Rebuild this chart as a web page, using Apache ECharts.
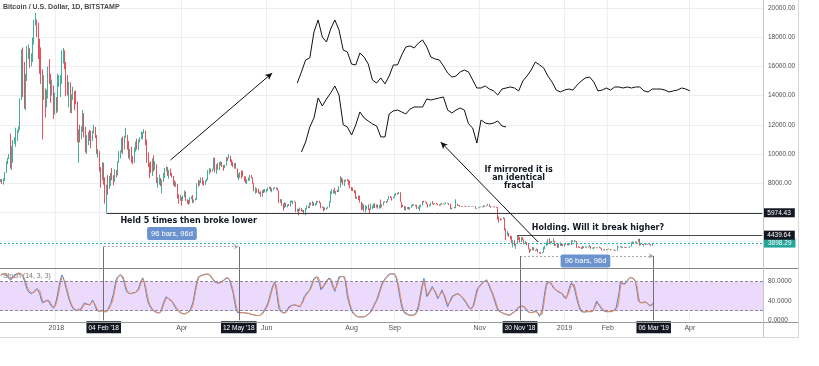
<!DOCTYPE html>
<html>
<head>
<meta charset="utf-8">
<title>BTCUSD</title>
<script src="https://cdn.jsdelivr.net/npm/echarts@6/dist/echarts.min.js"></script>
<style>
html,body{margin:0;padding:0;background:#fff;overflow:hidden;}
#wrap{position:relative;width:819px;height:366px;}
#chart{position:absolute;left:0;top:0;width:819px;height:366px;}
.ln{position:absolute;pointer-events:none;}
</style>
</head>
<body>
<div id="wrap">
<div id="chart"></div>
<div class="ln" style="left:0;top:268px;width:798px;border-top:1px solid #858585;"></div>
<div class="ln" style="left:0;top:322px;width:798px;border-top:1px solid #9a9a9a;"></div>
<div class="ln" style="left:0;top:337px;width:799px;border-top:1px solid #d6d6d6;"></div>
<div class="ln" style="left:763px;top:0;height:337px;border-left:1px solid #c4c4c4;"></div>
<div class="ln" style="left:798px;top:0;height:337px;border-left:1px solid #d6d6d6;"></div>
</div>
<script>
// ---------------- DATA ----------------
const START_DATE = '2017-11-22';   // first category (daily)
const CAT_COUNT = 548;             // daily slots on the time axis (incl. empty right margin)
const FIRST_OPEN = 8080;           // close of 2017-11-21

// Daily closes, Bitstamp BTCUSD, 2017-11-22 .. 2019-03-06
const closes = [
  8230,8010,8200,8750,9300,9720,9900,9850,9950,
  10850,10920,11290,11600,11660,13700,16850,16050,14840,15060,16730,17080,16300,16400,17600,19100,19100,18960,17400,16500,15600,13800,14500,13900,13900,15750,15400,14400,14650,12800,13880,
  13400,14750,15000,15100,16900,17100,16200,14950,14400,14900,13300,13800,14200,13600,13580,11200,11250,11200,11600,12800,11550,10800,10900,11400,11200,11100,11450,11800,11200,10100,10200,
  9100,8850,9200,8200,6900,7700,7600,8200,8650,8550,8100,8900,8540,9470,10050,10200,11100,10400,11150,11230,10450,9850,10150,9650,9600,10300,10580,10300,
  10900,11000,11450,11500,11600,10750,9900,9300,9230,8780,9550,9150,9150,8200,8270,8270,7870,8200,8600,8900,8900,8720,8900,8550,8450,8150,7800,7950,7100,6850,6930,
  6820,7050,7420,6800,6780,6620,6900,7020,6770,6840,6940,7920,7890,8010,8350,8060,7890,8160,8270,8860,8920,8800,8930,9640,8860,9270,8930,9340,9400,9240,
  9070,9220,9740,9700,9850,9620,9370,9180,9300,9010,8400,8480,8700,8680,8480,8340,8050,8230,8230,8520,8390,7990,7500,7580,7460,7340,7360,7110,7460,7380,7490,
  7520,7640,7710,7490,7620,7650,7680,7620,7500,6770,6880,6550,6310,6640,6390,6490,6450,6710,6740,6760,6720,6050,6170,6150,6250,6090,6150,5880,6210,6390,
  6350,6610,6510,6590,6540,6610,6760,6710,6660,6300,6390,6240,6230,6270,6360,6740,7320,7380,7470,7330,7410,7400,7720,8400,8170,7930,8180,8230,8210,8170,7730,
  7600,7530,7410,7010,7040,6940,6720,6280,6540,6150,6240,6320,6260,6190,6280,6320,6580,6400,6490,6270,6480,6370,6530,6700,6740,6700,6910,7080,7040,6980,7020,
  7190,7280,7260,7360,6700,6510,6410,6190,6240,6300,6280,6320,6480,6500,6520,6500,6250,6340,6380,6490,6760,6710,6700,6590,6430,6460,6660,6610,6600,6630,
  6590,6520,6480,6560,6600,6560,6590,6660,6640,6590,6250,6290,6300,6290,6600,6500,6480,6420,6400,6420,6430,6410,6400,6420,6400,6410,6420,6410,6270,6280,6330,
  6370,6390,6370,6460,6410,6470,6550,6420,6350,6390,6390,6370,6330,5720,5580,5550,5540,5600,4810,4450,4570,4330,4280,3900,4000,3750,3820,4260,4250,4000,
  4200,4140,3870,3950,3770,3500,3400,3410,3560,3430,3390,3490,3270,3240,3210,3250,3550,3710,3760,4150,3880,4000,3960,4050,3750,3800,3590,3860,3720,3850,3700,
  3820,3890,3780,3810,3790,4050,4000,4000,4010,3630,3620,3600,3500,3660,3580,3620,3650,3600,3700,3540,3560,3600,3560,3590,3580,3580,3540,3430,3400,3460,3440,
  3470,3500,3420,3430,3440,3380,3370,3640,3640,3680,3600,3620,3600,3580,3600,3620,3660,3880,3910,3960,3920,3970,4120,3740,3830,3800,3810,3800,
  3820,3820,3790,3710,3860,3898.29
];
const highs = [
  8300,8280,8340,8770,9520,9750,10000,11400,10550,
  10950,11150,11800,11650,11880,13800,17170,17300,16300,15500,17400,17500,17250,16900,17980,19200,19666,19200,19000,17900,17300,15800,15400,14500,14400,16000,16500,15500,15100,14700,14200,
  13900,15500,15400,15400,17100,17250,17100,16300,15400,14950,14900,14100,14600,14300,14350,13600,11700,12000,11900,13000,12800,11850,11300,11500,11650,11600,11600,12000,11850,11300,10350,
  10200,9100,9450,9400,8400,7900,8550,8500,8700,9050,8550,8950,8900,9500,10200,10250,11100,11200,11250,11800,11300,10900,10350,10500,9850,10450,10850,11050,
  11000,11150,11550,11500,11700,11600,11000,10100,9400,9500,9700,9900,9500,9300,8400,8600,8350,8250,8700,9050,9150,9100,8900,9000,8700,8500,8200,8100,7950,7250,7200,
  7050,7150,7500,7430,6900,6850,7050,7100,7180,6890,6970,8000,8230,8180,8400,8400,8170,8200,8300,8900,9030,9000,8990,9750,9760,9300,9380,9450,9500,9450,
  9250,9260,9800,9770,9980,9880,9630,9450,9370,9380,9010,8660,8760,8870,8850,8480,8470,8270,8380,8580,8560,8400,8020,7720,7650,7620,7420,7440,7530,7570,7600,
  7600,7700,7760,7760,7660,7690,7750,7710,7680,7500,6920,6890,6620,6700,6650,6550,6570,6800,6820,6800,6790,6730,6250,6250,6340,6290,6190,6170,6290,6500,
  6440,6680,6680,6780,6690,6640,6800,6780,6800,6680,6400,6380,6340,6320,6400,6760,7450,7580,7550,7690,7460,7550,7800,8480,8400,8300,8250,8240,8280,8240,8180,
  7740,7700,7540,7490,7090,7160,7150,6720,6630,6550,6480,6450,6550,6270,6600,6480,6600,6620,6560,6530,6500,6880,6570,6730,6780,6770,6920,7130,7130,7050,7080,
  7260,7340,7340,7400,7380,6700,6530,6450,6420,6360,6390,6350,6520,6580,6560,6530,6520,6390,6510,6530,6780,6800,6760,6720,6600,6540,6680,6770,6620,6640,
  6650,6600,6530,6600,6640,6610,6600,6690,6670,6640,6590,6320,6320,6380,6900,6600,6510,6500,6440,6440,6470,6450,6420,6460,6430,6430,6440,6420,6420,6300,6350,
  6400,6410,6400,6480,6470,6480,6580,6560,6430,6400,6400,6420,6390,6350,5720,5600,5570,5680,5620,4890,4720,4600,4400,4380,4100,4120,3850,4440,4400,4310,
  4300,4310,4150,4060,3960,3880,3520,3500,3640,3600,3440,3520,3490,3290,3270,3290,3620,3720,3950,4170,4230,4010,4050,4230,4050,3840,3830,3880,3940,3900,3840,
  3850,3920,3890,3830,3870,4100,4090,4110,4060,4030,3690,3640,3620,3720,3670,3680,3660,3650,3760,3710,3580,3620,3620,3610,3600,3670,3600,3540,3440,3490,3480,
  3490,3520,3500,3450,3460,3450,3400,3730,3660,3690,3680,3640,3660,3620,3640,3640,3700,3960,4010,3980,4000,3990,4190,4200,3880,3840,3830,3890,
  3860,3840,3830,3800,3880,3910
];
const lows = [
  8080,7950,7900,8160,8700,9300,9650,9000,8900,
  9400,10700,10500,10900,11450,11650,13700,13900,13100,13000,15000,16500,15900,16000,16300,17500,18800,18000,16500,15500,14800,11000,13700,12500,13200,13800,14800,13500,14000,12400,12700,
  12800,12900,14600,13900,14800,16200,15800,13950,14000,13200,12800,12800,13700,13000,13400,10800,9400,10800,11000,11500,11150,10100,10000,10600,10900,10400,10900,11400,11100,10000,9750,
  8800,7700,8200,7900,6600,5974.43,7200,7600,7800,8200,7850,8100,8400,8530,9400,9700,10100,10000,10300,11100,10300,9700,9600,9400,9300,9400,10150,10300,
  10250,10800,11000,11000,11400,10600,9400,9100,8350,8700,8500,8800,8900,8000,7700,7900,7800,7300,8100,8350,8800,8500,8300,8500,8400,7850,7750,7750,6950,6600,6800,
  6450,6780,7040,6780,6600,6520,6600,6900,6650,6660,6820,6860,7760,7840,8000,7900,7830,7880,8100,8210,8600,8750,8800,8930,8730,8640,8920,8900,9200,9100,
  8850,9030,9200,9530,9700,9440,9200,9100,8990,9000,8370,8220,8370,8300,8450,8120,8000,7930,8150,8180,8330,7960,7450,7280,7350,7300,7260,7080,7060,7320,7370,
  7360,7460,7610,7460,7380,7520,7630,7560,7480,6650,6650,6460,6120,6290,6370,6340,6440,6400,6680,6560,6700,6020,6040,5790,6080,6070,6020,5860,5800,6200,
  6300,6290,6490,6450,6450,6470,6520,6680,6640,6280,6290,6080,6150,6190,6260,6350,6670,7260,7280,7300,7210,7390,7390,7700,8050,7880,7800,8100,8130,7870,7650,
  7470,7460,7300,6940,6920,6850,6670,6150,6200,6060,6000,6200,6170,5880,6170,6230,6300,6300,6330,6250,6260,6280,6350,6480,6680,6640,6680,6880,6990,6810,6950,
  7010,7150,7220,7250,6700,6310,6370,6150,6140,6220,6200,6180,6310,6420,6470,6420,6230,6240,6100,6350,6470,6680,6670,6560,6340,6410,6450,6560,6500,6560,
  6540,6490,6430,6470,6530,6540,6530,6570,6610,6510,6210,6230,6280,6280,6290,6480,6450,6390,6380,6390,6410,6390,6370,6390,6380,6390,6400,6390,6240,6260,6270,
  6330,6360,6350,6350,6380,6400,6460,6390,6330,6350,6340,6350,6310,5500,5300,5440,5500,5530,4760,4100,4400,4320,4150,3880,3600,3690,3500,3820,4110,3920,
  3960,4090,3820,3820,3750,3480,3220,3330,3400,3400,3360,3380,3260,3180,3160,3200,3250,3480,3690,3760,3850,3820,3920,3960,3700,3720,3570,3580,3710,3700,3680,
  3650,3780,3750,3730,3780,3770,3980,3960,3990,3570,3580,3560,3490,3500,3560,3580,3570,3580,3600,3510,3520,3480,3550,3550,3550,3570,3520,3400,3380,3390,3420,
  3420,3460,3400,3410,3420,3360,3360,3360,3600,3600,3590,3560,3590,3560,3580,3600,3600,3660,3860,3890,3890,3910,3950,3720,3740,3770,3670,3780,
  3800,3780,3770,3690,3700,3840
];

// Stoch (14, 3, 3): %K and %D, one value per candle
const stochK = [
  94,96,97,98,95,90,86,83,87,91, 94,96,97,98,98,95,90,82,73,64, 59,57,55,56,60,64,66,66,55,44,
  36,37,40,42,42,38,31,27,25,31, 42,56,72,86,94,88,77,66,55,44, 36,29,24,21,20,21,22,21,25,31,
  36,35,33,32,32,37,42,36,28,21, 17,18,20,21,19,17,16,22,29,35, 39,55,72,85,90,93,95,94,85,74,
  63,58,55,55,56,57,58,58,59,66, 75,83,88,80,64,48,36,30,25,21, 19,17,16,15,15,20,28,37,44,49,
  47,43,40,39,34,29,24,21,18,16, 14,13,13,14,16,18,21,25,36,52, 68,82,90,92,93,94,95,95,96,96,
  94,90,86,82,79,77,77,78,79,80, 83,86,88,90,86,77,66,56,38,24, 16,15,16,17,16,15,15,15,14,13,
  12,11,11,10,10,10,10,12,15,19, 24,28,36,47,58,68,75,80,62,40, 22,18,16,15,15,18,23,28,30,31,
  32,32,31,30,29,28,34,41,49,53, 57,60,63,71,79,87,89,90,90,76, 63,67,72,77,82,86,88,83,74,66,
  60,70,81,90,91,91,90,90,70,49, 38,28,20,15,11,9,7,7,7,7, 7,7,9,11,13,15,20,25,31,37,
  42,51,60,69,77,82,86,90,93,96, 96,96,96,96,88,77,60,44,28,21, 15,13,12,11,10,10,11,12,13,15,
  30,46,63,76,87,68,49,54,60,65, 70,64,58,51,45,51,57,63,55,46, 37,28,35,42,49,51,53,54,55,56,
  52,48,45,42,37,32,28,24,21,27, 38,50,63,68,72,75,78,80,82,84, 77,69,62,56,47,38,29,21,19,17,
  15,14,13,12,11,10,12,14,16,18, 21,25,28,29,30,29,28,24,20,17, 15,16,17,18,18,18,13,8,5,22,
  43,62,77,79,80,76,72,67,63,62, 60,58,57,56,51,46,42,52,63,72, 78,80,67,54,42,31,23,18,17,17,
  18,18,19,18,18,18,24,32,40,35, 30,26,22,19,18,18,18,17,18,18, 20,23,26,28,55,80,78,75,73,78,
  83,87,89,90,87,84,80,62,40,36, 36,37,38,38,36,33,30,28,33,38
];
const stochD = [
  93,95,96,97,97,93,89,85,85,88, 91,94,96,97,98,97,93,87,79,70, 63,59,57,56,57,61,64,66,62,52,
  42,37,38,40,42,40,35,30,26,28, 36,48,63,78,89,90,82,72,61,50, 40,32,27,23,21,21,21,22,23,28,
  33,35,34,33,32,34,39,39,32,25, 19,18,19,20,20,18,17,19,25,31, 37,47,63,78,87,91,94,94,90,80,
  69,61,57,55,55,56,57,58,58,62, 70,79,86,84,72,56,42,33,28,23, 20,18,17,16,15,17,24,32,40,46,
  48,45,42,40,37,32,27,23,20,17, 15,14,13,13,15,17,19,23,30,44, 60,75,86,91,92,93,94,95,95,96,
  95,92,88,84,81,78,77,77,78,79, 81,84,87,89,88,82,72,61,47,31, 20,16,15,16,16,16,15,15,15,14,
  13,12,11,11,10,10,10,11,13,17, 21,26,32,41,52,63,71,78,71,51, 31,20,17,16,15,16,20,25,29,30,
  31,32,32,31,30,29,31,37,45,51, 55,58,61,67,75,83,88,89,90,83, 70,65,69,74,79,84,87,86,79,70,
  63,65,75,85,90,91,91,90,80,60, 44,33,24,18,13,10,8,7,7,7, 7,7,8,10,12,14,17,22,28,34,
  40,46,55,64,73,79,84,88,91,94, 96,96,96,96,92,83,69,52,36,25, 18,14,13,12,11,10,10,11,12,14,
  22,38,54,70,82,78,58,51,57,62, 67,67,61,55,48,48,54,60,59,51, 42,33,31,38,45,50,52,53,54,55,
  54,50,47,44,40,35,30,26,23,24, 32,44,56,66,70,73,76,79,81,83, 81,73,66,59,52,43,34,25,20,18,
  16,15,14,13,12,11,11,13,15,17, 19,23,26,28,29,30,29,26,22,19, 16,15,16,17,18,18,16,11,7,13,
  32,52,70,78,79,78,74,70,65,63, 61,59,58,57,54,49,44,47,57,67, 75,79,74,61,48,37,27,21,18,17,
  17,18,18,18,18,18,21,28,36,38, 33,28,24,21,19,18,18,18,18,18, 19,21,24,27,41,67,79,77,74,75,
  80,85,88,89,88,86,82,71,51,38, 36,36,37,38,37,35,32,29,30,35
];

// Hand-drawn fractal copies (price scale), one point every 3 days
const FRACTAL_STEP = 3;
const FRACTAL_TOP_START = 173;     // day number counted from 2018-01-01
const fractalTop = [
  14860,15620,16440,16580,18360,19180,18010,17670,18560,19180,
  18490,17120,16990,16160,16100,16920,16640,16160,15070,14860,
  15210,14800,15340,16100,16100,16780,17330,17400,17260,17600,
  17810,17330,16640,16510,16440,16030,15550,15270,15340,15620,
  15750,15620,15070,14520,14520,14660,14450,14320,14040,14450,
  14520,14590,14520,14320,15000,15340,15750,16300,16100,15890,
  15340,14930,14380,14250,14380,14450,14380,14730,15000,15210,
  15270,14930,14320,14380,14520,14380,14590,14590,14520,14590,
  14520,14590,14590,14320,14250,14450,14450,14450,14380,14250,
  14320,14380,14520,14450,14320
];
const FRACTAL_BOTTOM_START = 176;
const fractalBottom = [
  10140,10820,11850,12470,13840,13290,13770,14180,14660,14040,
  12000,11850,11300,11990,12880,12470,12260,12060,11920,11170,
  11170,12740,12950,13010,12880,12740,13080,13220,13220,13220,
  13770,13700,13770,13840,13900,13010,12810,13010,13150,13010,
  12060,11780,10750,12330,12120,12060,12120,12260,11920,11850
];

// Levels and drawings (data space)
const supportLevel = 5974.43, supportFrom = '2018-02-06';
const resistLevel = 4439.64, resistFrom = '2018-11-28';
const lastPrice = 3898.29;
const rangeA = ['2018-02-04', '2018-05-12', 3652, '2018-03-25', 4556];
const rangeB = ['2018-11-30', '2019-03-06', 3014, '2019-01-16', 2672];
const rangeText = '96 bars, 96d';
const arrowA = [['2018-03-24', 9589], ['2018-06-05', 15548]];
const arrowB = [['2018-12-13', 3973], ['2018-10-04', 10822]];
const notes = [
  ['2018-04-06', 5432, 'Held 5 times then broke lower'],
  ['2019-01-25', 4912, 'Holding. Will it break higher?'],
  ['2018-11-29', 8336, 'If mirrored it is\nan identical\nfractal']
];

// Axis ticks
const priceAxis = { min: 2000, max: 20548, step: 2000, hideBelow: 6000 };
const stochAxis = { min: 0, max: 108.4, step: 40 };
const xTickLabels = [
  ['2018-01-01', '2018', 0], ['2018-02-04', "04 Feb '18", 1], ['2018-04-01', 'Apr', 0],
  ['2018-05-12', "12 May '18", 1], ['2018-06-01', 'Jun', 0], ['2018-08-01', 'Aug', 0],
  ['2018-09-01', 'Sep', 0], ['2018-11-01', 'Nov', 0], ['2018-11-30', "30 Nov '18", 1],
  ['2019-01-01', '2019', 0], ['2019-02-01', 'Feb', 0], ['2019-03-06', "06 Mar '19", 1],
  ['2019-04-01', 'Apr', 0]
];
const xGridDates = ['2018-01-01','2018-02-01','2018-04-01','2018-06-01','2018-08-01','2018-09-01',
  '2018-11-01','2019-01-01','2019-02-01','2019-04-01'];

// ---------------- BUILD ----------------
const DAY = 864e5;
const t0 = Date.parse(START_DATE + 'T00:00:00Z');
const categories = [];
for (let i = 0; i < CAT_COUNT; i++) categories.push(new Date(t0 + i * DAY).toISOString().slice(0, 10));
const dayOffset = (Date.parse('2018-01-01T00:00:00Z') - t0) / DAY; // 40
const lastCat = categories[CAT_COUNT - 1];

const candles = closes.map((c, i) => {
  const o = i ? closes[i - 1] : FIRST_OPEN;
  return [o, c, Math.min(lows[i], o, c), Math.max(highs[i], o, c)];
});
const topPts = fractalTop.map((p, k) => [FRACTAL_TOP_START + k * FRACTAL_STEP, p]);
const botPts = fractalBottom.map((p, k) => [FRACTAL_BOTTOM_START + k * FRACTAL_STEP, p]);

const labelMap = {};
xTickLabels.forEach(([d, t, hl]) => { labelMap[d] = { t, hl }; });
const gridSet = new Set(xGridDates);

const FONT = 'Liberation Sans, Arial, sans-serif';
const BOLD = 'DejaVu Sans, sans-serif';
const UP = '#45ad99', DOWN = '#e6525c';

const tagLabel = (txt, bg) => ({
  show: true, position: 'end', distance: 1, formatter: txt,
  backgroundColor: bg, color: '#fff', fontSize: 6.5, fontFamily: FONT,
  padding: [1, 4, 1, 4], lineHeight: 7
});
const grayV = { color: '#707070', width: 1, type: 'solid' };
const vertPrice = (d, y) => [
  { coord: [d, y], lineStyle: grayV, label: { show: false } },
  { coord: [d, priceAxis.min] }
];
const rangeLine = (r) => [
  { coord: [r[0], r[2]], lineStyle: { color: '#a9a9a9', width: 1, type: [2, 2] }, label: { show: false } },
  { coord: [r[1], r[2]], symbol: 'arrow', symbolSize: [4, 5] }
];
const arrowLine = (a) => [
  { coord: a[0], lineStyle: { color: '#111', width: 1, type: 'solid' }, label: { show: false } },
  { coord: a[1], symbol: 'arrow', symbolSize: [5, 7] }
];

const markLineMain = {
  silent: true, symbol: 'none', animation: false,
  label: { show: false },
  data: [
    { yAxis: lastPrice, lineStyle: { color: '#2bb3a5', width: 1, type: [2, 2] }, label: tagLabel(lastPrice.toFixed(2), '#26a69a') },
    [{ coord: [supportFrom, supportLevel], lineStyle: { color: '#3a3a3a', width: 1, type: 'solid' }, label: tagLabel(supportLevel.toFixed(2), '#131722') },
     { coord: [lastCat, supportLevel] }],
    [{ coord: [resistFrom, resistLevel], lineStyle: { color: '#4a4a4a', width: 1, type: 'solid' }, label: tagLabel(resistLevel.toFixed(2), '#131722') },
     { coord: [lastCat, resistLevel] }],
    rangeLine(rangeA), rangeLine(rangeB),
    vertPrice(rangeA[0], rangeA[2]), vertPrice(rangeA[1], rangeA[2]),
    vertPrice(rangeB[0], rangeB[2]), vertPrice(rangeB[1], rangeB[2]),
    arrowLine(arrowA), arrowLine(arrowB)
  ]
};

const noteLabel = {
  show: true, position: 'inside', color: '#131722', fontFamily: BOLD, fontWeight: 'bold',
  fontSize: 8, lineHeight: 8, align: 'center', verticalAlign: 'middle'
};
const boxLabel = {
  show: true, position: 'inside', color: '#fff', fontFamily: FONT, fontSize: 7.5,
  backgroundColor: '#6b93cf', padding: [2, 4, 2, 4], borderRadius: 2, lineHeight: 9
};
const markPointMain = {
  silent: true, animation: false, symbol: 'rect', symbolSize: 1,
  itemStyle: { color: 'rgba(0,0,0,0)' },
  data: [
    ...notes.map(n => ({ coord: [n[0], n[1]], value: 0, label: Object.assign({}, noteLabel, { formatter: n[2] }) })),
    { coord: [rangeA[3], rangeA[4]], value: 0, label: Object.assign({}, boxLabel, { formatter: rangeText }) },
    { coord: [rangeB[3], rangeB[4]], value: 0, label: Object.assign({}, boxLabel, { formatter: rangeText }) }
  ]
};

const stochMarkLine = {
  silent: true, symbol: 'none', animation: false, label: { show: false },
  data: [
    { yAxis: 80, lineStyle: { color: '#8f8799', width: 1, type: [3, 2] } },
    { yAxis: 20, lineStyle: { color: '#8f8799', width: 1, type: [3, 2] } },
    { xAxis: rangeA[0], lineStyle: grayV }, { xAxis: rangeA[1], lineStyle: grayV },
    { xAxis: rangeB[0], lineStyle: grayV }, { xAxis: rangeB[1], lineStyle: grayV }
  ]
};

const gridLineStyle = { color: '#ebeef3', width: 1 };
const catAxisBase = {
  type: 'category', data: categories, boundaryGap: true,
  axisLine: { show: false }, axisTick: { show: false },
  splitLine: { show: true, interval: (i, v) => gridSet.has(v), lineStyle: gridLineStyle }
};

const option = {
  animation: false,
  backgroundColor: '#ffffff',
  title: [
    { text: 'Bitcoin / U.S. Dollar, 1D, BITSTAMP', left: 3, top: 4, padding: 0,
      textStyle: { fontSize: 7, fontWeight: 'bold', color: '#4a4a4a', fontFamily: FONT } },
    { text: 'Stoch (14, 3, 3)', left: 3, top: 273, padding: 0, z: 0,
      textStyle: { fontSize: 7, fontWeight: 'normal', color: '#777', fontFamily: FONT } }
  ],
  grid: [
    { left: 0, right: 56, top: 0, height: 270.8, outerBoundsMode: 'none', containLabel: false },
    { left: 0, right: 56, top: 268, height: 52.3, outerBoundsMode: 'none', containLabel: false }
  ],
  xAxis: [
    Object.assign({}, catAxisBase, { gridIndex: 0, axisLabel: { show: false } }),
    Object.assign({}, catAxisBase, {
      gridIndex: 1,
      axisLabel: {
        show: true, margin: 3, interval: (i, v) => !!labelMap[v],
        formatter: (v) => { const m = labelMap[v]; if (!m) return ''; return m.hl ? '{hl|' + m.t + '}' : '{n|' + m.t + '}'; },
        rich: {
          hl: { backgroundColor: '#131722', color: '#fff', fontSize: 6.5, fontFamily: FONT, padding: [3, 2, 2, 2], lineHeight: 8 },
          n: { color: '#505050', fontSize: 7, fontFamily: FONT, padding: [3, 0, 2, 0], lineHeight: 8 }
        }
      }
    }),
    { type: 'value', gridIndex: 0, min: -dayOffset - 0.5, max: CAT_COUNT - dayOffset - 0.5, show: false }
  ],
  yAxis: [
    { type: 'value', gridIndex: 0, position: 'right', min: priceAxis.min, max: priceAxis.max, interval: priceAxis.step,
      axisLine: { show: false }, axisTick: { show: false },
      splitLine: { show: true, showMinLine: false, showMaxLine: false, lineStyle: gridLineStyle },
      axisLabel: { showMinLabel: false, showMaxLabel: false, margin: 5, fontSize: 6.5, color: '#505050', fontFamily: FONT,
        formatter: v => (v > priceAxis.hideBelow && v < priceAxis.max ? v.toFixed(2) : '') } },
    { type: 'value', gridIndex: 1, position: 'right', min: stochAxis.min, max: stochAxis.max, interval: stochAxis.step,
      axisLine: { show: false }, axisTick: { show: false }, splitLine: { show: false },
      axisLabel: { showMaxLabel: false, margin: 5, fontSize: 6.5, color: '#505050', fontFamily: FONT,
        formatter: v => (v < stochAxis.max ? v.toFixed(4) : '') } }
  ],
  series: [
    { type: 'candlestick', name: 'BTCUSD', xAxisIndex: 0, yAxisIndex: 0, data: candles, barWidth: 1.3, clip: false,
      itemStyle: { color: UP, color0: DOWN, borderColor: UP, borderColor0: DOWN, borderWidth: 1 },
      markLine: markLineMain, markPoint: markPointMain, silent: true },
    { type: 'line', name: 'fractalTop', xAxisIndex: 2, yAxisIndex: 0, data: topPts, showSymbol: false, silent: true,
      lineStyle: { color: '#111', width: 1 }, z: 5 },
    { type: 'line', name: 'fractalBottom', xAxisIndex: 2, yAxisIndex: 0, data: botPts, showSymbol: false, silent: true,
      lineStyle: { color: '#111', width: 1 }, z: 5 },
    { type: 'line', name: '%K', xAxisIndex: 1, yAxisIndex: 1, data: stochK, showSymbol: false, silent: true,
      lineStyle: { color: '#4285e4', width: 1 }, z: 3,
      markArea: { silent: true, itemStyle: { color: '#ebdafc' }, data: [[{ yAxis: 20 }, { yAxis: 80 }]] },
      markLine: stochMarkLine },
    { type: 'line', name: '%D', xAxisIndex: 1, yAxisIndex: 1, data: stochD, showSymbol: false, silent: true,
      lineStyle: { color: '#f08a4b', width: 1 }, z: 3 }
  ]
};

const chart = echarts.init(document.getElementById('chart'), null, { renderer: 'canvas' });
chart.setOption(option);
</script>
</body>
</html>
